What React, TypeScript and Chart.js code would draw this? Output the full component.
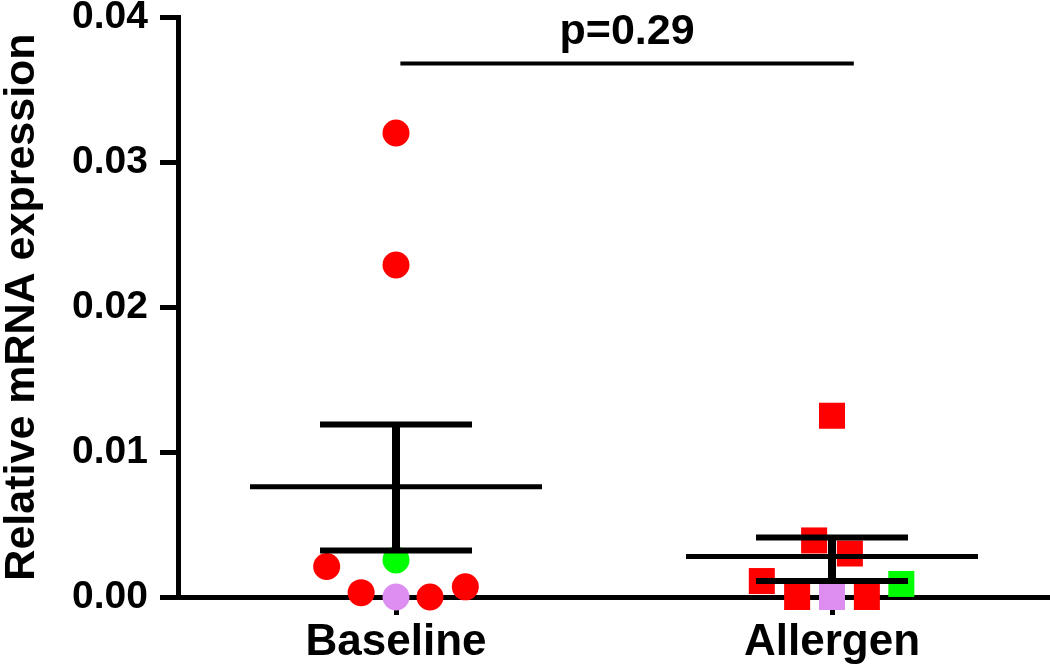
import React, { useEffect, useRef } from 'react';
import { Chart, registerables } from 'chart.js';

Chart.register(...registerables);

// ---- data ----
const categories = ['Baseline', 'Allergen'];
const yTickValues = [0, 0.01, 0.02, 0.03, 0.04];

const RED = '#ff0000';
const GREEN = '#00ff00';
const VIOLET = '#dd8ef0';

const baselineValues = [0.032, 0.0229, 0.0021, 0.0003, 0.0, 0.0, 0.0007, 0.00255];
const baselineJitter = [0, 0, -0.159, -0.08, 0, 0.078, 0.159, 0];
const baselineColors = [RED, RED, RED, RED, VIOLET, RED, RED, GREEN];

const allergenValues = [0.0125, 0.0039, 0.003, 0.0011, 0.0, 0.0, 0.0, 0.0009];
const allergenJitter = [0, -0.041, 0.041, -0.161, -0.08, 0, 0.08, 0.159];
const allergenColors = [RED, RED, RED, RED, RED, VIOLET, RED, GREEN];

const groupMeans = [0.0076, 0.0028];
const semLow = [0.0032, 0.0011];
const semHigh = [0.0119, 0.0041];

const bracketFrom = 1.01;
const bracketTo = 2.05;
const bracketValue = 0.0368;
const pLabel = 'p=0.29';

const FONT = '"Liberation Sans", Arial, Helvetica, sans-serif';

const overlayPlugin = {
  id: 'overlay',
  afterDatasetsDraw(chart: any) {
    const { ctx, scales } = chart;
    const x = scales.x;
    const y = scales.y;
    const line = (x1: number, y1: number, x2: number, y2: number) => {
      ctx.beginPath();
      ctx.moveTo(x1, y1);
      ctx.lineTo(x2, y2);
      ctx.stroke();
    };
    ctx.save();
    ctx.strokeStyle = '#000';
    ctx.lineCap = 'butt';
    groupMeans.forEach((m, i) => {
      const cx = x.getPixelForValue(i + 1);
      const yl = y.getPixelForValue(semLow[i]);
      const yh = y.getPixelForValue(semHigh[i]);
      const ym = y.getPixelForValue(m);
      ctx.lineWidth = 8;
      line(cx, yh, cx, yl);
      ctx.lineWidth = 6;
      line(cx - 76, yh, cx + 76, yh);
      line(cx - 76, yl, cx + 76, yl);
      ctx.lineWidth = 5;
      line(cx - 146, ym, cx + 146, ym);
    });
    const bx1 = x.getPixelForValue(bracketFrom);
    const bx2 = x.getPixelForValue(bracketTo);
    const by = y.getPixelForValue(bracketValue);
    ctx.lineWidth = 4;
    line(bx1, by, bx2, by);
    ctx.fillStyle = '#000';
    ctx.font = `bold 43px ${FONT}`;
    ctx.textAlign = 'center';
    ctx.textBaseline = 'alphabetic';
    ctx.fillText(pLabel, (bx1 + bx2) / 2, by - 19);
    ctx.restore();
  },
};

export default function App() {
  const canvasRef = useRef<HTMLCanvasElement | null>(null);

  useEffect(() => {
    document.body.style.margin = '0';
    const canvas = canvasRef.current;
    if (!canvas) return;
    const chart = new Chart(canvas, {
      type: 'scatter',
      data: {
        datasets: [
          {
            label: categories[0],
            data: baselineValues.map((v, i) => ({ x: 1 + baselineJitter[i], y: v })),
            pointStyle: 'circle',
            pointRadius: 13.5,
            pointBorderWidth: 0,
            pointBackgroundColor: baselineColors,
            pointBorderColor: baselineColors,
            clip: false,
          },
          {
            label: categories[1],
            data: allergenValues.map((v, i) => ({ x: 2 + allergenJitter[i], y: v })),
            pointStyle: 'rect',
            pointRadius: 18.4,
            pointBorderWidth: 0,
            pointBackgroundColor: allergenColors,
            pointBorderColor: allergenColors,
            clip: false,
          },
        ],
      },
      options: {
        responsive: false,
        animation: false,
        devicePixelRatio: 1,
        layout: { autoPadding: false, padding: { top: 17, right: 0, left: 0, bottom: 0 } },
        plugins: {
          legend: { display: false },
          tooltip: { enabled: false },
        },
        scales: {
          x: {
            type: 'linear',
            min: 0.5,
            max: 2.5,
            afterBuildTicks: (scale: any) => {
              scale.ticks = categories.map((_, i) => ({ value: i + 1 }));
            },
            afterFit: (scale: any) => {
              scale.height = 67;
              scale.paddingLeft = 0;
              scale.paddingRight = 0;
            },
            ticks: {
              callback: (v: any) => categories[Math.round(Number(v)) - 1] ?? '',
              color: '#000',
              padding: 1,
              maxRotation: 0,
              font: { family: FONT, size: 44, weight: 'bold' },
            },
            grid: {
              display: true,
              drawOnChartArea: false,
              drawTicks: true,
              tickLength: 18,
              lineWidth: 5,
              color: '#000',
            },
            border: { display: true, width: 5, color: '#000' },
          },
          y: {
            type: 'linear',
            min: 0,
            max: 0.04,
            afterBuildTicks: (scale: any) => {
              scale.ticks = yTickValues.map((v) => ({ value: v }));
            },
            afterFit: (scale: any) => {
              scale.width = 178;
              scale.paddingTop = 0;
              scale.paddingBottom = 0;
            },
            ticks: {
              callback: (v: any) => Number(v).toFixed(2),
              color: '#000',
              padding: 12,
              font: { family: FONT, size: 39, weight: 'bold' },
            },
            grid: {
              display: true,
              drawOnChartArea: false,
              drawTicks: true,
              tickLength: 18,
              lineWidth: 5,
              color: '#000',
            },
            border: { display: true, width: 5, color: '#000' },
            title: {
              display: true,
              text: 'Relative mRNA expression',
              color: '#000',
              padding: { top: 1, bottom: 0 },
              font: { family: FONT, size: 43, weight: 'bold', lineHeight: 1 },
            },
          },
        },
      },
      plugins: [overlayPlugin],
    });
    return () => chart.destroy();
  }, []);

  return (
    <div style={{ position: 'absolute', left: 0, top: 0, width: 1050, height: 664 }}>
      <canvas ref={canvasRef} width={1050} height={664} style={{ display: 'block' }} />
    </div>
  );
}
